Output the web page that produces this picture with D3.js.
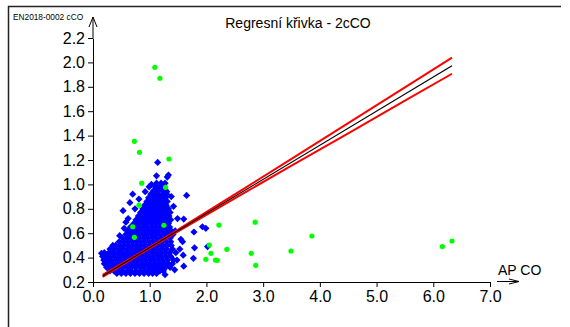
<!DOCTYPE html>
<html>
<head>
<meta charset="utf-8">
<script src="https://cdn.jsdelivr.net/npm/d3@7"></script>
<style>
  body { margin: 0; background: #fff; }
  text { font-family: "Liberation Sans", Arial, sans-serif; fill: #000; }
</style>
</head>
<body>
<div id="chart"></div>
<script>
// ---- data ----
const titleText = "Regresní křivka - 2cCO";
const yLabel = "EN2018-0002 cCO";
const xLabel = "AP CO";
const xTicks = [0, 1, 2, 3, 4, 5, 6, 7];
const yTicks = [0.2, 0.4, 0.6, 0.8, 1.0, 1.2, 1.4, 1.6, 1.8, 2.0, 2.2];

// dense blue cloud, one row per y level: [y, [x values]]
const cloudRows = [
    [0.27, [0.42,0.5,0.58,0.66,0.74,0.82,0.9,0.98,1.05,1.12]],
    [0.29, [0.3,0.37,0.45,0.52,0.6,0.67,0.75,0.83,0.9,0.97,1.04,1.1,1.18,1.24]],
    [0.32, [0.24,0.31,0.38,0.46,0.53,0.61,0.68,0.76,0.84,0.91,0.99,1.06,1.13,1.2,1.28,1.36]],
    [0.35, [0.2,0.27,0.35,0.42,0.5,0.57,0.65,0.72,0.8,0.87,0.95,1.02,1.1,1.17,1.25,1.33,1.4]],
    [0.38, [0.19,0.26,0.33,0.41,0.48,0.56,0.63,0.71,0.78,0.86,0.93,1.01,1.08,1.16,1.23,1.31,1.42]],
    [0.41, [0.17,0.24,0.31,0.39,0.46,0.54,0.61,0.69,0.76,0.84,0.91,0.99,1.06,1.14,1.21,1.29,1.37]],
    [0.44, [0.2,0.28,0.36,0.44,0.51,0.59,0.66,0.74,0.81,0.89,0.96,1.04,1.11,1.19,1.27,1.35,1.46]],
    [0.47, [0.3,0.38,0.46,0.53,0.61,0.68,0.76,0.83,0.91,0.98,1.06,1.13,1.21,1.29,1.4]],
    [0.50, [0.4,0.48,0.55,0.63,0.7,0.78,0.85,0.93,1.0,1.08,1.15,1.23,1.31,1.38]],
    [0.53, [0.46,0.54,0.61,0.69,0.76,0.84,0.91,0.99,1.06,1.14,1.21,1.29,1.37]],
    [0.56, [0.52,0.6,0.67,0.75,0.82,0.9,0.97,1.05,1.12,1.2,1.28,1.36]],
    [0.59, [0.58,0.65,0.73,0.8,0.88,0.95,1.03,1.1,1.18,1.26,1.34,1.41]],
    [0.62, [0.61,0.69,0.76,0.84,0.91,0.99,1.06,1.14,1.22,1.3,1.38]],
    [0.65, [0.66,0.74,0.81,0.89,0.96,1.04,1.11,1.19,1.27,1.35]],
    [0.68, [0.72,0.79,0.87,0.94,1.02,1.09,1.17,1.25,1.33]],
    [0.71, [0.76,0.84,0.91,0.99,1.06,1.14,1.22,1.3,1.37]],
    [0.74, [0.8,0.88,0.95,1.03,1.1,1.18,1.26,1.34]],
    [0.77, [0.84,0.92,0.99,1.07,1.14,1.22,1.3,1.36]],
    [0.80, [0.88,0.95,1.03,1.1,1.18,1.26,1.33]],
    [0.83, [0.91,0.99,1.06,1.14,1.21,1.29]],
    [0.86, [0.95,1.02,1.1,1.17,1.25,1.31]],
    [0.89, [0.98,1.06,1.13,1.2,1.28]],
    [0.92, [1.02,1.09,1.16,1.24,1.3]],
    [0.95, [1.07,1.14,1.22,1.28]],
    [0.98, [0.99,1.1,1.18,1.26]],
    [1.01, [1.12,1.2,1.27]]
];

// scattered blue points around the cloud
const bluePoints = [
    [1.14,1.18],[1.12,1.07],[1.31,1.06],[1.33,1.077],[1.03,1.0],[1.19,0.98],[1.3,0.94],
    [0.70,0.92],[0.65,0.85],[0.53,0.785],[0.58,0.69],[1.65,0.91],[1.49,0.72],[1.6,0.716],
    [1.55,0.55],[1.58,0.53],[1.53,0.47],[1.59,0.42],[1.78,0.61],[1.93,0.653],[1.99,0.64],
    [1.79,0.48],[1.77,0.394],[2.02,0.49],[1.6,0.33],[1.35,0.33],[0.15,0.435],[1.48,0.38],
    [0.47,0.58],[0.55,0.64],[0.62,0.72],[0.74,0.8],[0.81,0.88],[1.42,0.82],[1.45,0.62],
    [1.44,0.3],[1.27,0.26],[0.35,0.5],[0.92,0.94],[1.38,0.9]
];

// green points (excluded values)
const greenPoints = [
    [1.09,1.96],[1.18,1.87],[0.73,1.353],[0.82,1.263],[1.34,1.208],[0.86,1.01],[1.28,0.976],
    [0.81,0.83],[0.70,0.653],[0.73,0.566],[1.25,0.665],[2.22,0.667],[2.86,0.69],[3.86,0.577],
    [2.05,0.503],[2.36,0.468],[2.08,0.435],[2.79,0.435],[3.49,0.454],[1.99,0.386],[2.16,0.38],
    [2.19,0.378],[2.87,0.337],[6.16,0.49],[6.33,0.536]
];

// regression line and its band
const regX = [0.17, 6.33];
const regY = [0.250, 1.973];
const bandX = [0.17, 0.8, 1.5, 2.5, 3.5, 4.5, 5.5, 6.33];
const bandUpper = [0.258, 0.431, 0.630, 0.918, 1.209, 1.503, 1.796, 2.039];
const bandLower = [0.242, 0.421, 0.614, 0.886, 1.153, 1.419, 1.686, 1.907];

// ---- drawing ----
const W = 570, H = 327;
const svg = d3.select("#chart").append("svg")
    .attr("width", W)
    .attr("height", H);

// frame (top and left edge)
svg.append("path")
    .attr("d", "M8.5,327 L8.5,6.5 L561,6.5")
    .attr("fill", "none")
    .attr("stroke", "#222")
    .attr("stroke-width", 1.5);

const x = d3.scaleLinear().domain([0, 7]).range([93, 490]);
const y = d3.scaleLinear().domain([0.2, 2.2]).range([282, 38]);

// title + labels
svg.append("text")
    .attr("x", 298).attr("y", 28)
    .attr("text-anchor", "middle")
    .style("font-size", "14px")
    .text(titleText);

svg.append("text")
    .attr("x", 13).attr("y", 19.5)
    .style("font-size", "8.3px")
    .text(yLabel);

svg.append("text")
    .attr("x", 498).attr("y", 275)
    .style("font-size", "14px")
    .text(xLabel);

// axes
const yAxis = svg.append("g")
    .attr("transform", `translate(${x(0)},0)`)
    .call(d3.axisLeft(y).tickValues(yTicks).tickSize(5).tickSizeOuter(0).tickPadding(3)
        .tickFormat(d => d.toFixed(1)));
const xAxis = svg.append("g")
    .attr("transform", `translate(0,${y(0.2)})`)
    .call(d3.axisBottom(x).tickValues(xTicks).tickSize(5).tickSizeOuter(0).tickPadding(4)
        .tickFormat(d => d.toFixed(1)));

[yAxis, xAxis].forEach(g => {
    g.selectAll("text").style("font-size", "16px").attr("fill", "#000")
        .style("font-family", "'Liberation Sans', Arial, sans-serif");
    g.selectAll("line").attr("stroke", "#000");
    g.select(".domain").attr("stroke", "#000");
});

// y axis extension with arrow
svg.append("line")
    .attr("x1", x(0)).attr("x2", x(0))
    .attr("y1", y(2.2)).attr("y2", 17)
    .attr("stroke", "#000");
svg.append("path")
    .attr("d", `M${x(0) - 4},27 L${x(0)},17 L${x(0) + 4},27`)
    .attr("fill", "none")
    .attr("stroke", "#000");

// x axis arrow
svg.append("line")
    .attr("x1", 497).attr("x2", 519)
    .attr("y1", 281.5).attr("y2", 281.5)
    .attr("stroke", "#000");
svg.append("path")
    .attr("d", "M509,279 L519,281.5 L509,284")
    .attr("fill", "none")
    .attr("stroke", "#000");

const plot = svg.append("g");
const diamond = r => `M0,${-r}L${r},0L0,${r}L${-r},0Z`;

const cloud = cloudRows.flatMap(([yy, xs]) => xs.map(xx => [xx, yy]));
const allBlue = cloud.concat(bluePoints);

plot.selectAll(".blue")
    .data(allBlue)
    .enter().append("path")
    .attr("class", "blue")
    .attr("d", diamond(3.6))
    .attr("transform", d => `translate(${x(d[0])},${y(d[1])})`)
    .attr("fill", "#0000ff");

const line = d3.line().x(d => x(d[0])).y(d => y(d[1]));

plot.append("path")
    .datum(bandX.map((v, i) => [v, bandUpper[i]]))
    .attr("d", line)
    .attr("fill", "none")
    .attr("stroke", "#ff0000")
    .attr("stroke-width", 2);
plot.append("path")
    .datum(bandX.map((v, i) => [v, bandLower[i]]))
    .attr("d", line)
    .attr("fill", "none")
    .attr("stroke", "#ff0000")
    .attr("stroke-width", 2);
plot.append("path")
    .datum(regX.map((v, i) => [v, regY[i]]))
    .attr("d", line)
    .attr("fill", "none")
    .attr("stroke", "#000")
    .attr("stroke-width", 1.2);

plot.selectAll(".green")
    .data(greenPoints)
    .enter().append("circle")
    .attr("class", "green")
    .attr("cx", d => x(d[0]))
    .attr("cy", d => y(d[1]))
    .attr("r", 2.6)
    .attr("fill", "#00ff00");
</script>
</body>
</html>
